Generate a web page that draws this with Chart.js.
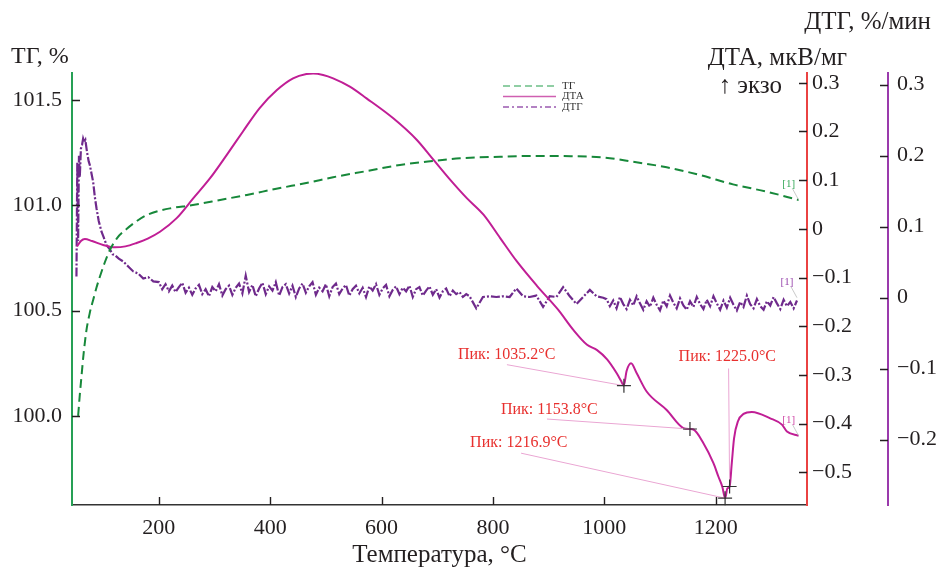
<!DOCTYPE html>
<html>
<head>
<meta charset="utf-8">
<script src="https://cdn.jsdelivr.net/npm/chart.js@4.4.1/dist/chart.umd.min.js"></script>
<style>
  html, body { margin: 0; padding: 0; background: #fff; }
  canvas { display: block; }
</style>
</head>
<body>
<canvas id="thermoChart" width="949" height="570"></canvas>
<script>
// TG curve (mass, %)
const tgTemp = [55, 58, 61, 65, 70, 76, 82, 88, 94, 103, 112, 125, 142, 160, 178, 200, 220, 261, 310, 358,
  411, 471, 513, 573, 633, 692, 741, 813, 872, 940, 998, 1052, 1112, 1172, 1231, 1292, 1349];
const tgValue = [100.0, 100.1, 100.187, 100.3, 100.408, 100.49, 100.551, 100.61, 100.661, 100.73, 100.788, 100.845,
  100.888, 100.925, 100.954, 100.974, 100.986, 101.002, 101.026, 101.050, 101.079, 101.110, 101.134, 101.163,
  101.192, 101.211, 101.224, 101.231, 101.235, 101.234, 101.228, 101.207, 101.181, 101.144, 101.10, 101.065, 101.026];

// DTA curve (µV/mg)
const dtaTemp = [53, 60, 67, 80, 100, 121, 140, 160, 180, 202, 232, 262, 292, 322, 351, 381, 412, 441, 465, 477,
  495, 513, 543, 573, 621, 663, 693, 723, 753, 783, 813, 843, 879, 917, 944, 969, 987, 1005, 1022, 1030,
  1035, 1040, 1048, 1058, 1076, 1112, 1142, 1154, 1160, 1178, 1196, 1205, 1212, 1217, 1221, 1225, 1229, 1233, 1240, 1250,
  1265, 1298, 1319, 1328, 1349];
const dtaValue = [-0.036, -0.025, -0.021, -0.025, -0.033, -0.038, -0.036, -0.029, -0.020, -0.006, 0.022, 0.063, 0.104, 0.152, 0.200, 0.248, 0.285, 0.309, 0.318, 0.319,
  0.316, 0.309, 0.292, 0.268, 0.227, 0.183, 0.142, 0.101, 0.063, 0.029, -0.019, -0.067, -0.117, -0.166, -0.207, -0.238, -0.249, -0.268, -0.296, -0.312,
  -0.322, -0.292, -0.276, -0.296, -0.334, -0.372, -0.409, -0.411, -0.412, -0.440, -0.481, -0.509, -0.530, -0.553, -0.533, -0.529, -0.48, -0.43, -0.395, -0.380,
  -0.376, -0.389, -0.402, -0.416, -0.425];

// DTG curve (%/min), noisy trace
const dtgTemp = [
  52, 53.5, 55, 56.5, 58, 60, 62, 64, 66, 68, 71, 74, 76, 79, 82, 85, 88, 92, 97, 101,
  106, 112, 117, 121, 128, 136, 145, 154, 163, 172, 181, 190,
  200, 206, 212, 218, 224, 230, 236, 242, 248, 254,
  260, 266, 272, 278, 284, 290, 296, 302, 308, 314,
  320, 326, 332, 338, 344, 350, 356, 362, 368, 374,
  380, 386, 392, 398, 404, 410, 416, 422, 428, 434,
  440, 446, 452, 458, 464, 470, 476, 482, 488, 494,
  500, 506, 512, 518, 524, 530, 536, 542, 548, 554,
  560, 566, 572, 578, 584, 590, 596, 602, 608, 614,
  620, 626, 632, 638, 644, 650, 656, 662, 668, 674,
  680, 686, 692, 698, 704, 710, 716, 722, 728, 734,
  740, 746, 752, 758,
  770, 782, 794, 806, 818, 830, 842, 854, 866, 878,
  890, 902, 914, 926, 938, 950, 962, 974, 986, 998,
  1004, 1010, 1016, 1022, 1028, 1034, 1040, 1046, 1052, 1058,
  1064, 1070, 1076, 1082, 1088, 1094, 1100, 1106, 1112, 1118,
  1124, 1130, 1136, 1142, 1148, 1154, 1160, 1166, 1172, 1178,
  1184, 1190, 1196, 1202, 1208, 1214, 1220, 1226, 1232, 1238,
  1244, 1250, 1256, 1262, 1268, 1274, 1280, 1286, 1292, 1298,
  1304, 1310, 1316, 1322, 1328, 1334, 1340, 1346
];
const dtgValue = [
  0.03, 0.19, 0.08, 0.20, 0.17, 0.21, 0.215, 0.224, 0.219, 0.222, 0.205, 0.192, 0.187, 0.175, 0.163, 0.142, 0.126, 0.108, 0.093, 0.085,
  0.074, 0.068, 0.061, 0.060, 0.055, 0.051, 0.044, 0.037, 0.034, 0.027, 0.029, 0.023,
  0.022, 0.012, 0.019, 0.009, 0.017, 0.008, 0.015, 0.021, 0.007, 0.014,
  0.004, 0.013, 0.018, 0.005, 0.012, 0.002, 0.015, 0.009, 0.019, 0.003,
  0.012, 0.017, 0.004, 0.014, 0.020, 0.006, 0.031, 0.008, 0.018, 0.002,
  0.013, 0.021, 0.005, 0.016, 0.010, 0.022, 0.003, 0.015, 0.019, 0.006,
  0.017, 0.001, 0.013, 0.020, 0.007, 0.016, 0.022, 0.004, 0.014, 0.009,
  0.019, 0.002, 0.015, 0.020, 0.005, 0.013, 0.018, 0.003, 0.012, 0.017,
  0.006, 0.014, 0.001, 0.016, 0.010, 0.019, 0.004, 0.013, 0.018, 0.002,
  0.011, 0.016, 0.005, 0.014, 0.009, 0.017, 0.001, 0.012, 0.015, 0.003,
  0.010, 0.016, 0.004, 0.012, 0.000, 0.009, 0.013, 0.002, 0.010, 0.005,
  0.008, 0.001, 0.005, 0.002,
  -0.015, 0.001, 0.002, 0.001, 0.002, 0.001, 0.013, 0.002, 0.001, 0.003,
  -0.013, 0.002, 0.001, 0.015, 0.002, -0.009, 0.001, 0.011, 0.002, 0.000,
  -0.002, -0.012, -0.004, -0.015, 0.001, -0.009, -0.016, -0.003, -0.011, 0.002,
  -0.008, -0.017, -0.005, -0.013, 0.000, -0.010, -0.018, -0.004, -0.012, 0.003,
  -0.007, -0.015, -0.001, -0.011, -0.017, -0.005, -0.013, 0.001, -0.009, -0.016,
  -0.003, -0.012, 0.002, -0.008, -0.017, -0.004, -0.014, 0.000, -0.010, -0.018,
  -0.006, -0.013, 0.003, -0.009, -0.015, -0.002, -0.012, -0.017, -0.005, -0.011,
  0.001, -0.008, -0.016, -0.003, -0.012, -0.006, -0.015, -0.004
];

// DTA peaks marked on the curve
const peakTemp = [1035.2, 1153.8, 1216.9, 1225.0];
const peakDta = [-0.322, -0.411, -0.553, -0.529];
const peakText = ['Пик: 1035.2°C', 'Пик: 1153.8°C', 'Пик: 1216.9°C', 'Пик: 1225.0°C'];

// axis ticks
const tempTicks = [200, 400, 600, 800, 1000, 1200];
const tgTicks = [100.0, 100.5, 101.0, 101.5];
const dtaTicks = [-0.5, -0.4, -0.3, -0.2, -0.1, 0, 0.1, 0.2, 0.3];
const dtgTicks = [-0.2, -0.1, 0, 0.1, 0.2, 0.3];

const SERIF = "'Liberation Serif', 'Times New Roman', serif";
const INK = '#231f20';
const GREEN = '#17883a';
const MAGENTA = '#c01e95';
const PURPLE = '#6f2a8c';

const toPoints = (xs, ys) => xs.map((x, i) => ({ x: x, y: ys[i] }));
const fmt = v => (Math.abs(v) < 1e-9 ? '0' : v.toFixed(1).replace('-', '\u2212'));

function yAxis(color, ticks, min, max, pos, width, weight, pad, labelFmt) {
    return {
        type: 'linear', position: pos, min: min, max: max, weight: weight,
        afterBuildTicks: s => { s.ticks = ticks.map(v => ({ value: v })); },
        afterFit: s => { s.width = width; },
        grid: { display: true, drawOnChartArea: false, drawTicks: false },
        border: { display: true, color: color, width: 2 },
        ticks: { color: INK, padding: pad, font: { family: SERIF, size: 22 }, callback: labelFmt }
    };
}

// inward tick marks, peak markers, legend and the free-standing titles
const decorations = {
    id: 'decorations',
    afterDatasetsDraw(chart) {
        const ctx = chart.ctx;
        const { x, tg, dta, dtg } = chart.scales;
        const len = 8;
        ctx.save();
        ctx.strokeStyle = INK;
        ctx.lineWidth = 1.4;
        ctx.beginPath();
        x.ticks.forEach(t => { const px = Math.round(x.getPixelForValue(t.value)) + 0.5; ctx.moveTo(px, x.top); ctx.lineTo(px, x.top - len); });
        tg.ticks.forEach(t => { const py = Math.round(tg.getPixelForValue(t.value)) + 0.5; ctx.moveTo(tg.right, py); ctx.lineTo(tg.right + len, py); });
        dta.ticks.forEach(t => { const py = Math.round(dta.getPixelForValue(t.value)) + 0.5; ctx.moveTo(dta.left, py); ctx.lineTo(dta.left - len, py); });
        dtg.ticks.forEach(t => { const py = Math.round(dtg.getPixelForValue(t.value)) + 0.5; ctx.moveTo(dtg.left, py); ctx.lineTo(dtg.left - len, py); });
        ctx.stroke();

        // peak labels: text offset and leader start relative to the peak point (px)
        const textOff = [[-166, -31], [-189, -19], [-255, -55], [-51, -130]];
        const leadOff = [[-117, -21], [-143, -10], [-204, -45], [-1, -118]];
        ctx.font = '16px ' + SERIF;
        ctx.textBaseline = 'middle';
        ctx.textAlign = 'left';
        peakTemp.forEach((t, i) => {
            const px = x.getPixelForValue(t);
            const py = dta.getPixelForValue(peakDta[i]);
            ctx.strokeStyle = '#eaa6d3';
            ctx.lineWidth = 1;
            ctx.beginPath();
            ctx.moveTo(px + leadOff[i][0], py + leadOff[i][1]);
            ctx.lineTo(px, py);
            ctx.stroke();
            ctx.strokeStyle = '#333';
            ctx.lineWidth = 1.2;
            ctx.beginPath();
            ctx.moveTo(px - 7, py); ctx.lineTo(px + 7, py);
            ctx.moveTo(px, py - 7); ctx.lineTo(px, py + 7);
            ctx.stroke();
            ctx.fillStyle = '#e8302e';
            ctx.fillText(peakText[i], px + textOff[i][0], py + textOff[i][1]);
        });

        // [1] tags at the curve ends
        const ends = [
            [tgTemp[tgTemp.length - 1], tg.getPixelForValue(tgValue[tgValue.length - 1]), '#3aaa5c'],
            [dtgTemp[dtgTemp.length - 1], dtg.getPixelForValue(0.0), '#9a4aae'],
            [dtaTemp[dtaTemp.length - 1], dta.getPixelForValue(dtaValue[dtaValue.length - 1]), '#d04aa8']
        ];
        ctx.font = '11px ' + SERIF;
        ctx.textAlign = 'center';
        ends.forEach(e => {
            const ex = x.getPixelForValue(e[0]);
            const ey = e[1];
            ctx.strokeStyle = '#bbbbbb';
            ctx.lineWidth = 0.8;
            ctx.beginPath();
            ctx.moveTo(ex - 6, ey - 11); ctx.lineTo(ex, ey);
            ctx.stroke();
            ctx.fillStyle = e[2];
            ctx.fillText('[1]', ex - 10, ey - 16);
        });

        // legend
        const lx = 503, ly = 86;
        const items = [['ТГ', '#6cbf86', [7, 4]], ['ДТА', '#cf5fb1', []], ['ДТГ', '#9a5ab0', [6, 3, 2, 3]]];
        ctx.font = '11px ' + SERIF;
        ctx.textAlign = 'left';
        items.forEach((it, i) => {
            const y = ly + i * 10.5;
            ctx.strokeStyle = it[1];
            ctx.lineWidth = 1.3;
            ctx.setLineDash(it[2]);
            ctx.beginPath();
            ctx.moveTo(lx, y); ctx.lineTo(lx + 53, y);
            ctx.stroke();
            ctx.setLineDash([]);
            ctx.fillStyle = '#333';
            ctx.fillText(it[0], lx + 59, y);
        });

        // axis titles
        ctx.fillStyle = INK;
        ctx.font = '24px ' + SERIF;
        ctx.textAlign = 'left';
        ctx.fillText('ТГ, %', 11, 57);
        ctx.font = '25px ' + SERIF;
        ctx.textAlign = 'right';
        ctx.fillText('ДТГ, %/мин', 931, 22);
        ctx.fillText('ДТА, мкВ/мг', 847, 58);
        ctx.fillText('\u2191 экзо', 782, 86);
        ctx.restore();
    }
};

new Chart(document.getElementById('thermoChart'), {
    type: 'line',
    data: {
        datasets: [
            {
                label: 'ТГ', yAxisID: 'tg', data: toPoints(tgTemp, tgValue),
                borderColor: GREEN, borderWidth: 2, borderDash: [9, 5], pointRadius: 0,
                cubicInterpolationMode: 'monotone', fill: false
            },
            {
                label: 'ДТА', yAxisID: 'dta', data: toPoints(dtaTemp, dtaValue),
                borderColor: MAGENTA, borderWidth: 2, pointRadius: 0,
                cubicInterpolationMode: 'monotone', fill: false
            },
            {
                label: 'ДТГ', yAxisID: 'dtg', data: toPoints(dtgTemp, dtgValue),
                borderColor: PURPLE, borderWidth: 2.2, borderDash: [9, 2, 2, 2], pointRadius: 0,
                tension: 0, fill: false
            }
        ]
    },
    options: {
        responsive: false,
        animation: false,
        layout: { padding: { top: 73, left: 0, right: 0, bottom: 0 } },
        plugins: { legend: { display: false }, tooltip: { enabled: false } },
        scales: {
            x: {
                type: 'linear', min: 44, max: 1364,
                afterBuildTicks: s => { s.ticks = tempTicks.map(v => ({ value: v })); },
                afterFit: s => { s.height = 65; },
                grid: { display: true, drawOnChartArea: false, drawTicks: false },
                border: { display: true, color: '#333', width: 1.6 },
                ticks: { color: INK, padding: 10, maxRotation: 0, font: { family: SERIF, size: 22 }, callback: v => String(v) },
                title: { display: true, text: 'Температура, °C', color: INK, font: { family: SERIF, size: 25 }, padding: { top: 0, bottom: 0 } }
            },
            tg: yAxis('#26a055', tgTicks, 99.577, 101.629, 'left', 72, 0, 10, v => v.toFixed(1)),
            dta: yAxis('#ea4242', dtaTicks, -0.567, 0.320, 'right', 81, 0, 5, fmt),
            dtg: yAxis('#9a3aac', dtgTicks, -0.292, 0.3165, 'right', 61, 1, 9, fmt)
        }
    },
    plugins: [decorations]
});
</script>
</body>
</html>
